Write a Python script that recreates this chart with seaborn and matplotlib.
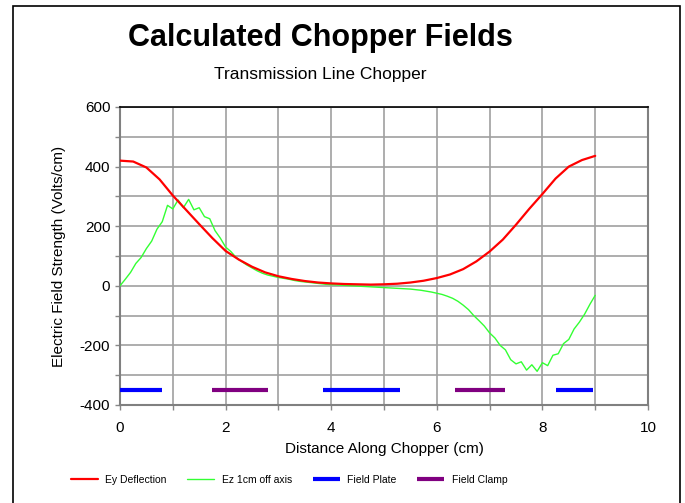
import numpy as np
import pandas as pd
import matplotlib
matplotlib.use("Agg")
import matplotlib.pyplot as plt
import seaborn as sns

# Ey Deflection (red)
ey_x = [0, 0.25, 0.5, 0.75, 1.0, 1.25, 1.5, 1.75, 2.0, 2.25, 2.5, 2.75, 3.0,
        3.25, 3.5, 3.75, 4.0, 4.25, 4.5, 4.75, 5.0, 5.25, 5.5, 5.75, 6.0,
        6.25, 6.5, 6.75, 7.0, 7.25, 7.5, 7.75, 8.0, 8.25, 8.5, 8.75, 9.0]
ey_val = [420, 417, 397, 357, 303, 255, 207, 160, 117, 88, 64, 45, 32,
          23, 16, 11, 8, 6, 5, 4, 5, 7, 11, 17, 26,
          38, 56, 82, 115, 155, 205, 258, 308, 360, 400, 422, 436]

# Ez 1cm off axis (green), every 0.1 cm
ez_x = [round(i * 0.1, 1) for i in range(91)]
ez_val = [0, 22, 45, 75, 95, 125, 150, 190, 215, 270,
          258, 288, 262, 290, 255, 262, 232, 225, 185, 160,
          130, 115, 95, 82, 70, 60, 50, 42, 36, 32,
          28, 25, 22, 18, 15, 13, 11, 9, 7, 5,
          4, 3, 2, 1, 0, -1, -2, -3, -4, -5,
          -6, -7, -8, -9, -10, -11, -13, -15, -18, -21,
          -25, -29, -35, -42, -52, -65, -80, -100, -117, -135,
          -158, -175, -200, -215, -248, -262, -255, -283, -265, -287,
          -258, -268, -233, -228, -194, -180, -145, -122, -95, -62,
          -32]

# electrodes
plate_start = [0.0, 3.85, 8.25]
plate_end = [0.8, 5.3, 8.95]
clamp_start = [1.75, 6.35]
clamp_end = [2.8, 7.3]
electrode_y = -350

sns.set_style("white")
plt.rcParams['font.family'] = ['Liberation Sans', 'DejaVu Sans']
plt.rcParams['axes.unicode_minus'] = False
plt.rcParams['text.color'] = 'black'
plt.rcParams['axes.labelcolor'] = 'black'
plt.rcParams['xtick.color'] = 'black'
plt.rcParams['ytick.color'] = 'black'

fig = plt.figure(figsize=(6.85, 5.03), dpi=100)
ax = fig.add_axes([120/685, 98/503, 528/685, 298/503])

ey = pd.DataFrame({"x": ey_x, "y": ey_val})
ez = pd.DataFrame({"x": ez_x, "y": ez_val})

sns.lineplot(data=ey, x="x", y="y", color="#ff0000", linewidth=1.6,
             ax=ax, label="Ey Deflection", zorder=4)
sns.lineplot(data=ez, x="x", y="y", color="#33ff33", linewidth=1.0,
             ax=ax, label="Ez 1cm off axis", zorder=3)
ax.hlines([electrode_y] * len(plate_start), plate_start, plate_end,
          color="#0000ff", linewidth=3, label="Field Plate", zorder=3)
ax.hlines([electrode_y] * len(clamp_start), clamp_start, clamp_end,
          color="#800080", linewidth=3, label="Field Clamp", zorder=3)

ax.set_xlim(0, 10)
ax.set_ylim(-400, 600)
ax.set_xticks(np.arange(0, 11, 2))
ax.set_xticks(np.arange(0, 11, 1), minor=True)
ax.set_yticks(np.arange(-400, 601, 200))
ax.set_yticks(np.arange(-400, 601, 100), minor=True)
ax.grid(True, which="both", color="#a0a0a0", linewidth=1.2)
ax.set_axisbelow(True)
ax.tick_params(which="both", direction="out", length=3.5, color="#888888",
               width=1, labelsize=11, left=True, bottom=True,
               labelcolor="black")
ax.tick_params(axis="x", pad=8)

for s in ["left", "right", "bottom"]:
    ax.spines[s].set_color("#808080")
    ax.spines[s].set_linewidth(1.5)
ax.spines["top"].set_color("black")
ax.spines["top"].set_linewidth(1.2)

ax.set_xlabel("Distance Along Chopper (cm)", fontsize=11, labelpad=5)
ax.set_ylabel("Electric Field Strength (Volts/cm)", fontsize=11, labelpad=10)

ax.get_legend().remove()
handles, labels = ax.get_legend_handles_labels()
fig.legend(handles, labels, loc="center", ncol=4, frameon=False,
           bbox_to_anchor=(289/685, 23/503), fontsize=7.5,
           handlelength=2.6, handletextpad=0.7, columnspacing=2.0)

fig.text(320/685, 1 - 38/503, "Calculated Chopper Fields", ha="center",
         va="center", fontsize=22, fontweight="bold", color="black")
fig.text(320/685, 1 - 75/503, "Transmission Line Chopper", ha="center",
         va="center", fontsize=12.5, color="black")

# slide frame
frame = plt.Rectangle((13/685, -0.05), (680 - 13)/685, 1.05 - 6/503,
                      transform=fig.transFigure, fill=False,
                      edgecolor="black", linewidth=1.2, clip_on=False)
fig.patches.append(frame)

plt.savefig("out.png", dpi=100)
